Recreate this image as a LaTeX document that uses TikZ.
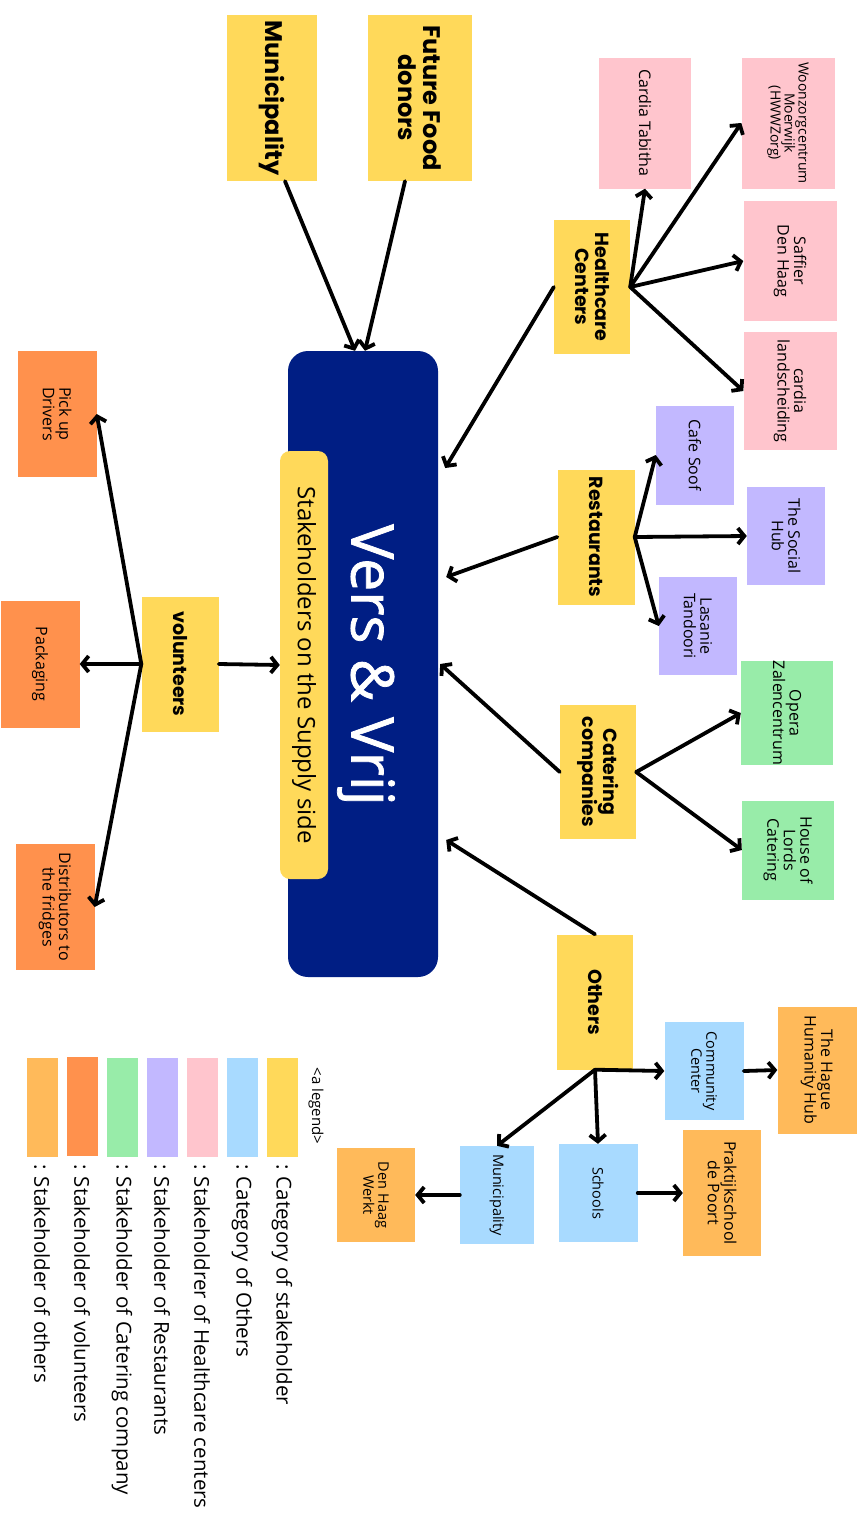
\documentclass[tikz,border=0pt]{standalone}
\usepackage{fontspec}
\setmainfont{Open Sans}
\newfontfamily\headfont{Poppins}
\newfontfamily\titlefont{Open Sans}[FakeBold=1.3]
\usetikzlibrary{arrows.meta, calc}

\definecolor{catyellow}{HTML}{FFD95A}
\definecolor{hcpink}{HTML}{FFC5CD}
\definecolor{restpurple}{HTML}{C2B8FF}
\definecolor{catgreen}{HTML}{98ECA9}
\definecolor{othblue}{HTML}{A8DAFF}
\definecolor{volorange}{HTML}{FF914D}
\definecolor{othorange}{HTML}{FFBA5A}
\definecolor{navy}{HTML}{001E84}

\tikzset{
  box/.style={rectangle, rotate=-90, inner sep=0pt, align=center, text=black},
  catbox/.style={box, fill=catyellow, font=\headfont\bfseries\fontsize{19}{20}\selectfont},
  itembox/.style={box, font=\fontsize{16}{16.5}\selectfont},
  smallbox/.style={box, font=\fontsize{14.5}{15}\selectfont},
  link/.style={-{Straight Barb[length=6.5pt,width=16pt]}, line width=3.8pt, line cap=round, line join=round},
  swatch/.style={rectangle, inner sep=0pt, minimum width=31, minimum height=99},
  legtext/.style={rotate=-90, anchor=west, inner sep=0pt, font=\fontsize{20.5}{21}\selectfont},
}

\begin{document}
\begin{tikzpicture}[x=1pt,y=-1pt]
\useasboundingbox (0,0) rectangle (861,1513);

% centre
\node[rectangle, fill=navy, rounded corners=20pt, minimum width=150, minimum height=626] (main) at (363,664) {};
\node[rotate=-90, text=white, font=\titlefont\fontsize{59}{60}\selectfont] (title) at (366,665) {Vers \& Vrij};
\node[box, fill=catyellow, rounded corners=10pt, minimum width=428, minimum height=48, font=\fontsize{24}{25}\selectfont] (supply) at (304,665) {Stakeholders on the Supply side};

% top donors
\node[box, fill=catyellow, minimum width=166, minimum height=104, font=\headfont\bfseries\fontsize{24}{25}\selectfont] (ffd) at (420,98) {Future Food\\donors};
\node[box, fill=catyellow, minimum width=166, minimum height=90, font=\headfont\bfseries\fontsize{24}{25}\selectfont] (muni) at (272,98) {Municipality};

% healthcare
\node[catbox, minimum width=134, minimum height=76] (hc) at (592,287) {Healthcare\\Centers};
\node[itembox, fill=hcpink, minimum width=131, minimum height=92] (tabitha) at (645,123) {Cardia Tabitha};
\node[smallbox, fill=hcpink, minimum width=131, minimum height=93, font=\fontsize{14}{14}\selectfont] (woon) at (788,123) {Woonzorgcentrum\\Moerwijk\\(HWWZorg)};
\node[itembox, fill=hcpink, minimum width=120, minimum height=93] (saffier) at (790,261) {Saffier\\Den Haag};
\node[itembox, fill=hcpink, minimum width=118, minimum height=93] (cardia) at (790,391) {cardia\\landscheiding};

% restaurants
\node[catbox, minimum width=135, minimum height=77] (rest) at (596,537) {Restaurants};
\node[itembox, fill=restpurple, minimum width=99, minimum height=78] (cafe) at (695,455) {Cafe Soof};
\node[itembox, fill=restpurple, minimum width=98, minimum height=78] (hub) at (786,536) {The Social\\Hub};
\node[itembox, fill=restpurple, minimum width=98, minimum height=78] (lasanie) at (698,626) {Lasanie\\Tandoori};

% catering
\node[catbox, minimum width=134, minimum height=76] (cater) at (598,772) {Catering\\companies};
\node[itembox, fill=catgreen, minimum width=100, minimum height=92] (opera) at (787,713) {Opera\\Zalencentrum};
\node[itembox, fill=catgreen, minimum width=99, minimum height=92] (lords) at (788,850) {House of\\Lords\\Catering};

% others
\node[catbox, minimum width=135, minimum height=76] (others) at (595,1002) {Others};
\node[smallbox, fill=othblue, minimum width=98, minimum height=79] (comm) at (704,1071) {Community\\Center};
\node[itembox, fill=othorange, minimum width=127, minimum height=79] (humhub) at (817,1070) {The Hague\\Humanity Hub};
\node[smallbox, fill=othblue, minimum width=98, minimum height=79] (schools) at (598,1193) {Schools};
\node[itembox, fill=othorange, minimum width=126, minimum height=78] (prak) at (722,1193) {Praktijkschool\\de Poort};
\node[smallbox, fill=othblue, minimum width=98, minimum height=74] (muni2) at (497,1195) {Municipality};
\node[smallbox, fill=othorange, minimum width=94, minimum height=78] (dhw) at (376,1195) {Den Haag\\Werkt};

% volunteers
\node[catbox, minimum width=135, minimum height=77] (vol) at (180,664) {volunteers};
\node[itembox, fill=volorange, minimum width=126, minimum height=79] (pickup) at (57,414) {Pick up\\Drivers};
\node[itembox, fill=volorange, minimum width=127, minimum height=79] (pack) at (40,664) {Packaging};
\node[itembox, fill=volorange, minimum width=126, minimum height=79] (distr) at (55,907) {Distributors to\\the fridges};

% arrows
\draw[link] ([xshift=-15pt]ffd.east) -- ([xshift=2pt]main.north);
\draw[link] ([xshift=13pt]muni.east) -- ([xshift=-8pt]main.north);

\draw[link] (hc.south) -- ([xshift=7pt,yshift=196pt]main.east);
\draw[link] (hc.north) -- (tabitha.east);
\draw[link] (hc.north) -- (woon.south);
\draw[link] (hc.north) -- (saffier.south);
\draw[link] (hc.north) -- (cardia.south);

\draw[link] (rest.south) -- ([xshift=8pt,yshift=87pt]main.east);
\draw[link] (rest.north) -- (cafe.south);
\draw[link] (rest.north) -- (hub.south);
\draw[link] (rest.north) -- (lasanie.south);

\draw[link] (cater.south) -- ([xshift=2pt]main.east);
\draw[link] (cater.north) -- (opera.south);
\draw[link] (cater.north) -- (lords.south);

\draw[link] (others.west) -- ([xshift=8pt,yshift=-176pt]main.east);
\draw[link] (others.east) -- (comm.south);
\draw[link] (others.east) -- (schools.west);
\draw[link] (others.east) -- (muni2.west);
\draw[link] (comm.north) -- (humhub.south);
\draw[link] (schools.north) -- (prak.south);
\draw[link] (muni2.south) -- (dhw.north);

\draw[link] (vol.north) -- (supply.south);
\draw[link] (vol.south) -- (pickup.north);
\draw[link] (vol.south) -- (pack.north);
\draw[link] (vol.south) -- (distr.north);

% legend
\node[rotate=-90, inner sep=0pt, font=\fontsize{15}{16}\selectfont] (legtitle) at (316,1106) {\textless a legend\textgreater};
\node[swatch, fill=catyellow] (sw1) at (282,1107) {};
\node[swatch, fill=othblue] (sw2) at (242,1107) {};
\node[swatch, fill=hcpink] (sw3) at (202,1107) {};
\node[swatch, fill=restpurple] (sw4) at (162,1107) {};
\node[swatch, fill=catgreen] (sw5) at (122,1107) {};
\node[swatch, fill=volorange] (sw6) at (82,1106) {};
\node[swatch, fill=othorange] (sw7) at (42,1107) {};
\node[legtext] (lt1) at (282,1164) {: Category of stakeholder};
\node[legtext] (lt2) at (242,1164) {: Category of Others};
\node[legtext] (lt3) at (202,1164) {: Stakeholdrer of Healthcare centers};
\node[legtext] (lt4) at (162,1164) {: Stakeholder of Restaurants};
\node[legtext] (lt5) at (122,1164) {: Stakeholder of Catering company};
\node[legtext] (lt6) at (82,1164) {: Stakeholder of volunteers};
\node[legtext] (lt7) at (42,1164) {: Stakeholder of others};
\end{tikzpicture}
\end{document}
